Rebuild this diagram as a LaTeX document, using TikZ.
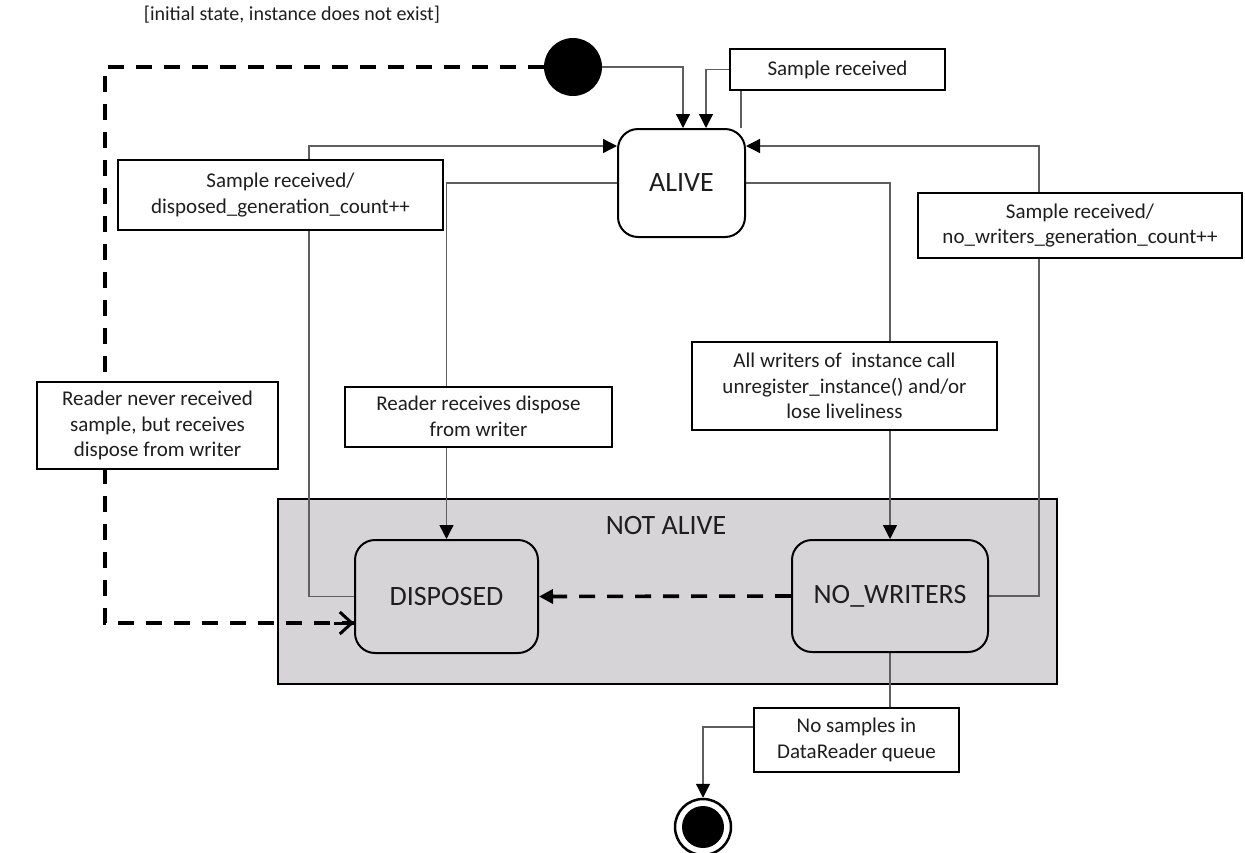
\documentclass[tikz,border=0pt]{standalone}
\usepackage{fontspec}
\setmainfont{Carlito}
\usetikzlibrary{arrows.meta,calc}
\pgfdeclarelayer{bgzero}
\pgfdeclarelayer{bgone}
\pgfsetlayers{bgzero,bgone,main}
\definecolor{txt}{RGB}{30,30,30}
\definecolor{conncol}{RGB}{95,95,95}
\definecolor{zonefill}{RGB}{214,212,215}
\begin{document}
\begin{tikzpicture}[x=1pt,y=-1pt,
  lbl/.style={draw=black, line width=2pt, fill=white, align=center, inner sep=0pt,
    text=txt, font=\fontsize{21}{25.5}\selectfont},
  statebox/.style={draw=black, line width=2pt, rounded corners=20pt, inner sep=0pt,
    text=txt, font=\fontsize{28}{32}\selectfont},
  conn/.style={draw=conncol, line width=1.3pt},
  arr/.style={conn, -{Triangle[length=14pt,width=14pt,color=black]}},
  dashline/.style={draw=black, line width=3.6pt, dash pattern=on 16pt off 12pt},
]
\useasboundingbox (0,0) rectangle (1245,852);

% states
\node[circle, fill=black, minimum size=58pt, inner sep=0pt] (init) at (573,67) {};
\node[font=\fontsize{20}{24}\selectfont, text=txt] (initlbl) at (292,15) {[initial state, instance does not exist]};
\node[statebox, minimum width=127pt, minimum height=108pt] (alive) at (681.5,183) {ALIVE};
\begin{pgfonlayer}{bgzero}
\node[draw=black, line width=2pt, fill=zonefill, minimum width=779pt, minimum height=185pt, inner sep=0pt] (zone) at (667.5,591.5) {};
\end{pgfonlayer}
\node[text=txt, font=\fontsize{28}{32}\selectfont] (zonelbl) at (666,526) {NOT ALIVE};
\node[statebox, minimum width=183pt, minimum height=113pt] (disposed) at (446.5,596.5) {DISPOSED};
\node[statebox, minimum width=196pt, minimum height=112pt] (nowriters) at (890,596) {NO\_WRITERS};
\node[circle, draw=black, line width=2.5pt, fill=white, minimum size=56pt, inner sep=0pt] (final) at (703,827) {};
\fill[black] (final.center) circle (21);

% label boxes
\node[lbl, minimum width=215pt, minimum height=41pt] (sr1) at (837.5,69.5) {Sample received};
\node[lbl, minimum width=325pt, minimum height=70pt] (sr2) at (280.5,195) {Sample received/\\disposed\_generation\_count++};
\node[lbl, minimum width=324pt, minimum height=65pt] (sr3) at (1080,225.5) {Sample received/\\no\_writers\_generation\_count++};
\node[lbl, minimum width=241pt, minimum height=87pt] (rn) at (157.5,425.5) {Reader never received\\sample, but receives\\dispose from writer};
\node[lbl, minimum width=267pt, minimum height=60pt] (rr) at (478.5,416.5) {Reader receives dispose\\from writer};
\node[lbl, minimum width=305pt, minimum height=88pt] (aw) at (844.5,386) {All writers of~ instance call\\unregister\_instance() and/or\\lose liveliness};
\node[lbl, minimum width=205pt, minimum height=64pt] (ns) at (856.5,740) {No samples in\\DataReader queue};

\coordinate (lc) at (309,146);
\coordinate (rc) at (1039,146);
\coordinate (dc) at (105,67);

\begin{pgfonlayer}{bgone}
% initial transition
\draw[arr] (init.east) -| ([xshift=1.5pt]alive.north);
% self loop
\draw[conn] ([xshift=59.5pt]alive.north) -- ([xshift=59.5pt]alive.north |- sr1.south);
\draw[arr] (sr1.west) -| ([xshift=24.5pt]alive.north);
% left loop
\draw[arr] (disposed.west) -| (lc) -- (lc -| alive.west);
% right loop
\draw[arr] (nowriters.east) -| (rc) -- (rc -| alive.east);
% alive -> disposed
\draw[arr] (alive.west) -| (disposed.north);
% alive -> nowriters
\draw[arr] (alive.east) -| (nowriters.north);
% dashed from init
\draw[dashline] (init.west) -- (dc) |- ([yshift=-26.5pt]disposed.west);
\draw[line width=3pt, -{Straight Barb[length=12pt,width=22pt]}] ([xshift=-20pt,yshift=-26.5pt]disposed.west) -- ([yshift=-26.5pt]disposed.west);
% nowriters -> disposed
\draw[dashline, -{Triangle[length=14pt,width=14pt]}] (nowriters.west) -- (disposed.east);
% nowriters -> final
\draw[conn] (nowriters.south) -- (nowriters.south |- ns.north);
\draw[arr] ([yshift=13pt]ns.west) -| (final.north);
\end{pgfonlayer}
\end{tikzpicture}
\end{document}
